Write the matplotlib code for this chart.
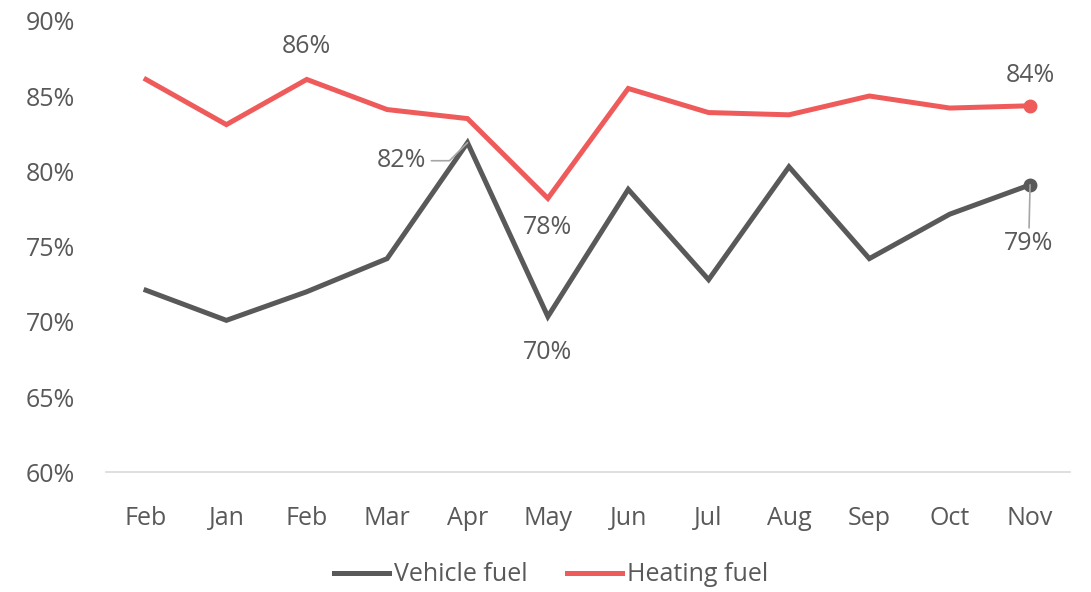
import matplotlib.pyplot as plt
from matplotlib.ticker import FuncFormatter

months = ['Feb', 'Jan', 'Feb', 'Mar', 'Apr', 'May', 'Jun', 'Jul', 'Aug', 'Sep', 'Oct', 'Nov']
vehicle = [72.1, 70.1, 72.0, 74.2, 81.9, 70.35, 78.8, 72.8, 80.3, 74.2, 77.15, 79.1]
heating = [86.1, 83.1, 86.1, 84.1, 83.5, 78.2, 85.5, 83.9, 83.75, 85.0, 84.2, 84.35]

dark = '#595959'
red = '#EF5B5B'
txt = '#595959'

plt.rcParams['font.family'] = ['Open Sans', 'DejaVu Sans']

fig = plt.figure(figsize=(10.91, 5.92), dpi=100)
ax = fig.add_axes([0.097, 0.202, 0.884, 0.763])
x = list(range(len(months)))

ax.plot(x, vehicle, color=dark, lw=3.6, solid_joinstyle='miter', label='Vehicle fuel')
ax.plot(x, heating, color=red, lw=3.6, solid_joinstyle='miter', label='Heating fuel')
ax.plot(x[-1], vehicle[-1], 'o', color=dark, ms=9)
ax.plot(x[-1], heating[-1], 'o', color=red, ms=9)

ax.set_xlim(-0.5, 11.5)
ax.set_ylim(60, 90)
ax.set_yticks(range(60, 91, 5))
ax.yaxis.set_major_formatter(FuncFormatter(lambda v, p: f'{v:.0f}%'))
ax.set_xticks(x)
ax.set_xticklabels(months)
for s in ['top', 'right', 'left']:
    ax.spines[s].set_visible(False)
ax.spines['bottom'].set_color('#D9D9D9')
ax.spines['bottom'].set_linewidth(1.2)
ax.tick_params(length=0, labelsize=18, colors=txt)
ax.tick_params(axis='x', pad=24)
ax.tick_params(axis='y', pad=22)

fs = 18
# data labels
ax.annotate(f'{heating[2]:.0f}%', (2, heating[2]), xytext=(0, 15), textcoords='offset points',
            ha='center', va='bottom', fontsize=fs, color=txt)
ax.annotate(f'{heating[11]:.0f}%', (11, heating[11]), xytext=(0, 13), textcoords='offset points',
            ha='center', va='bottom', fontsize=fs, color=txt)
ax.annotate(f'{heating[5]:.0f}%', (5, heating[5]), xytext=(0, -12), textcoords='offset points',
            ha='center', va='top', fontsize=fs, color=txt)
ax.annotate(f'{vehicle[5]:.0f}%', (5, vehicle[5]), xytext=(0, -17), textcoords='offset points',
            ha='center', va='top', fontsize=fs, color=txt)
ax.annotate(f'{vehicle[4]:.0f}%', (4, vehicle[4]), xytext=(-30, -13), textcoords='offset points',
            ha='right', va='center', fontsize=fs, color=txt,
            arrowprops=dict(arrowstyle='-', color='#A6A6A6', lw=1.2,
                            connectionstyle='angle,angleA=0,angleB=45,rad=0',
                            shrinkA=2, shrinkB=0))
ax.annotate(f'{vehicle[11]:.0f}%', (11, vehicle[11]), xytext=(-1, -33), textcoords='offset points',
            ha='center', va='top', fontsize=fs, color=txt,
            arrowprops=dict(arrowstyle='-', color='#A6A6A6', lw=1.2, shrinkA=0, shrinkB=0))

leg = fig.legend(loc='center', bbox_to_anchor=(0.505, 0.029), ncol=2, frameon=False,
                 fontsize=fs, handlelength=2.2, handletextpad=0.2, columnspacing=1.6)
for t in leg.get_texts():
    t.set_color(txt)

fig.savefig('out.png', dpi=100)
